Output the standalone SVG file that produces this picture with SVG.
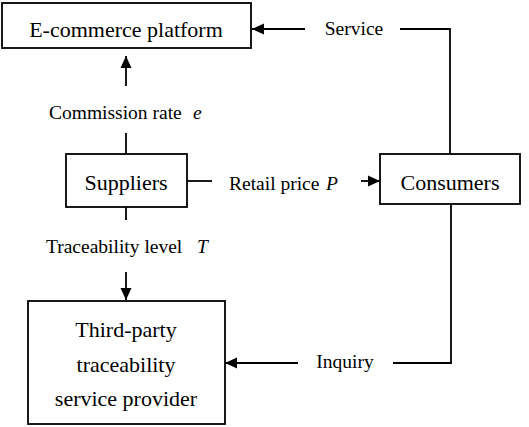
<svg xmlns="http://www.w3.org/2000/svg" width="529" height="427" viewBox="0 0 529 427">
<style>
.box{fill:#fff;stroke:#000;stroke-width:1.8}
.big{font-family:"Liberation Serif","Times New Roman",serif;font-size:22px;text-anchor:middle;fill:#000}
.lbl{font-family:"Liberation Serif","Times New Roman",serif;font-size:19.5px;fill:#000}
.mid{text-anchor:middle}
.it{font-style:italic}
.ln{fill:none;stroke:#000;stroke-width:1.8}
</style>
<defs>
<marker id="ah" viewBox="0 0 12 12" refX="12" refY="6" markerWidth="12" markerHeight="12" markerUnits="userSpaceOnUse" orient="auto">
<path d="M0,0.5 L12,6 L0,11.5 z" fill="#000"/>
</marker>
</defs>
<rect width="529" height="427" fill="#fff"/>
<g id="connectors">
<path class="ln" d="M126,154 V133" />
<path class="ln" d="M126,86 V56" marker-end="url(#ah)" />
<path class="ln" d="M187,181 H212" />
<path class="ln" d="M361,181 H380" marker-end="url(#ah)" />
<path class="ln" d="M126,207 V220" />
<path class="ln" d="M126,272 V300" marker-end="url(#ah)" />
<path class="ln" d="M450,154 V29 H400" />
<path class="ln" d="M305,29 H252" marker-end="url(#ah)" />
<path class="ln" d="M451,204 V363 H393" />
<path class="ln" d="M298,363 H225" marker-end="url(#ah)" />
<text class="lbl" x="49" y="119">Commission rate<tspan class="it" x="193">e</tspan></text>
<text class="lbl" x="229" y="190">Retail price<tspan class="it" x="326">P</tspan></text>
<text class="lbl" x="46" y="253">Traceability level<tspan class="it" x="197">T</tspan></text>
<text class="lbl mid" x="354" y="35">Service</text>
<text class="lbl mid" x="345" y="368">Inquiry</text>
</g>
<g id="ecommerce">
<rect class="box" x="2" y="3" width="249" height="45"/>
<text class="big" x="126" y="37">E-commerce platform</text>
</g>
<g id="suppliers">
<rect class="box" x="66" y="154" width="121" height="53"/>
<text class="big" x="126" y="190">Suppliers</text>
</g>
<g id="consumers">
<rect class="box" x="380" y="154" width="140" height="50"/>
<text class="big" x="450" y="190">Consumers</text>
</g>
<g id="thirdparty">
<rect class="box" x="28" y="301" width="197" height="123"/>
<text class="big" x="126" y="337">Third-party</text>
<text class="big" x="126" y="372">traceability</text>
<text class="big" x="126" y="406">service provider</text>
</g>
</svg>
